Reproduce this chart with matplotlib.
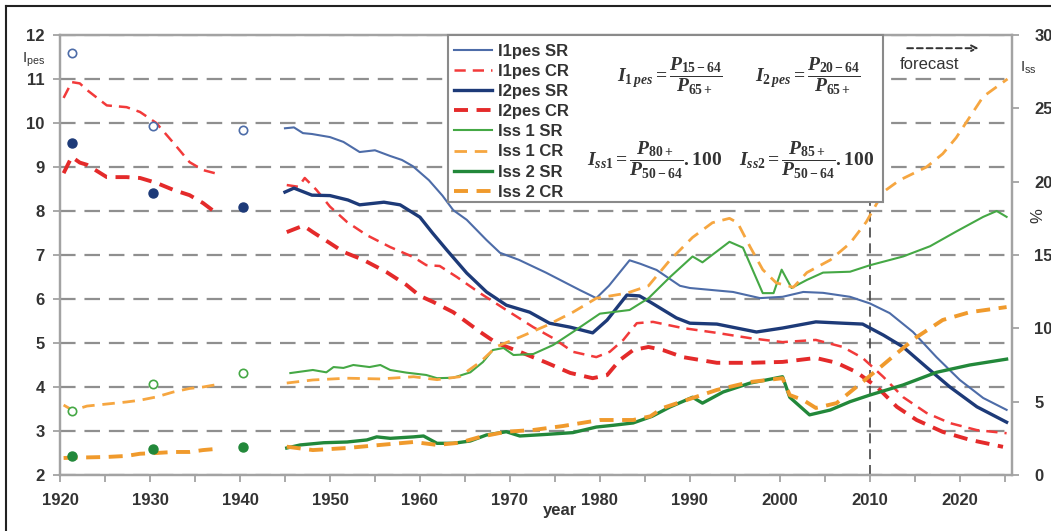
import numpy as np
import matplotlib
matplotlib.use("Agg")
import matplotlib.pyplot as plt
from matplotlib.patches import Rectangle
from matplotlib.lines import Line2D

plt.rcParams['font.family'] = ['Liberation Sans', 'DejaVu Sans']
plt.rcParams['mathtext.fontset'] = 'custom'
plt.rcParams['mathtext.rm'] = 'Liberation Serif:bold'
plt.rcParams['mathtext.it'] = 'Liberation Serif:italic:bold'
plt.rcParams['mathtext.bf'] = 'Liberation Serif:bold'

# ---- data ----
census_years = [1921.3, 1930.3, 1940.3]
i1pes_census = [11.6, 9.93, 9.84]
i2pes_census = [9.55, 8.41, 8.10]
iss1_census = [4.36, 6.2, 6.95]
iss2_census = [1.3, 1.77, 1.91]

pre_years = [1920.4, 1921.3, 1922.2, 1923, 1925.2, 1927.4, 1928.9, 1930.7, 1932.6, 1934.4, 1935.9, 1937.2]
i1pes_cr_pre = [10.57, 10.93, 10.9, 10.75, 10.4, 10.36, 10.25, 10.0, 9.55, 9.11, 8.93, 8.86]
i2pes_cr_pre = [8.86, 9.23, 9.1, 9.05, 8.77, 8.77, 8.75, 8.64, 8.48, 8.36, 8.18, 7.98]
iss1_cr_pre = [4.77, 4.45, 4.55, 4.7, 4.84, 4.98, 5.1, 5.32, 5.66, 5.9, 6.0, 6.14]
iss2_cr_pre = [1.16, 1.18, 1.2, 1.2, 1.23, 1.3, 1.45, 1.5, 1.57, 1.57, 1.7, 1.77]

i1_sr_years = [1945, 1946, 1947, 1948, 1950, 1951.5, 1953.3, 1955, 1956.7, 1958, 1959.2, 1961, 1962.5,
               1963.7, 1965.2, 1967.4, 1968.9, 1971, 1974, 1977.8, 1979.6, 1981, 1983.3, 1984.5, 1986.3,
               1988.9, 1990, 1994.8, 1997.8, 2000.3, 2002.6, 2004.8, 2007.8, 2010, 2012.2, 2014.8,
               2017.4, 2020, 2022.6, 2025.2]
i1pes_sr = [9.88, 9.9, 9.77, 9.75, 9.68, 9.57, 9.34, 9.38, 9.25, 9.16, 9.02, 8.7, 8.35,
            8.02, 7.8, 7.34, 7.05, 6.89, 6.6, 6.2, 6.02, 6.3, 6.88, 6.8, 6.66,
            6.3, 6.25, 6.16, 6.02, 6.05, 6.16, 6.14, 6.05, 5.9, 5.68, 5.25,
            4.68, 4.16, 3.75, 3.48]

i2_sr_years = [1945, 1946, 1948, 1950, 1952, 1953.3, 1956, 1957.8, 1960, 1961.4, 1963, 1965.2, 1967.4,
               1969.6, 1972.2, 1974.4, 1976.7, 1979.2, 1980.8, 1983, 1984.4, 1985.6, 1988.5, 1990,
               1993, 1997.4, 2000.3, 2004, 2007, 2009.2, 2011.5, 2013.7, 2016.3, 2018.9, 2021.9, 2025.2]
i2pes_sr = [8.43, 8.52, 8.36, 8.35, 8.25, 8.14, 8.2, 8.14, 7.86, 7.5, 7.11, 6.59, 6.16,
            5.86, 5.7, 5.45, 5.36, 5.23, 5.52, 6.09, 6.07, 5.93, 5.57, 5.45,
            5.43, 5.25, 5.34, 5.48, 5.45, 5.43, 5.18, 4.91, 4.45, 4.0, 3.55, 3.2]

i1_cr_years = [1945.2, 1946.5, 1947.2, 1948.5, 1950, 1951.9, 1954.1, 1956.7, 1959.3, 1960.7, 1962.2,
               1964.1, 1966.7, 1969.6, 1972.6, 1974.8, 1977, 1979.6, 1981.1, 1982.6, 1984.1, 1985.9,
               1989.2, 1993, 1996.7, 2000.3, 2004, 2007, 2009.2, 2011.5, 2013.7, 2016.3, 2018.9,
               2021.9, 2025.2]
i1pes_cr = [8.59, 8.55, 8.75, 8.48, 8.1, 7.75, 7.45, 7.18, 6.95, 6.77, 6.75,
            6.5, 6.13, 5.75, 5.36, 5.11, 4.8, 4.68, 4.8, 5.07, 5.45, 5.48,
            5.34, 5.23, 5.11, 5.02, 5.07, 4.91, 4.66, 4.23, 3.77, 3.41, 3.18,
            3.02, 2.95]

i2_cr_years = [1945.2, 1946.7, 1947.1, 1948.1, 1950, 1951.5, 1953.7, 1956.3, 1958.5, 1960, 1961.5,
               1963.7, 1966.7, 1968.5, 1971.1, 1974.1, 1976.7, 1979.2, 1980.8, 1982.2, 1983.7, 1985.4,
               1987, 1989.2, 1993, 1996.7, 2000.3, 2004, 2006.3, 2008.5, 2010.8, 2013, 2015.2,
               2018.1, 2021.1, 2024.8]
i2pes_cr = [7.52, 7.64, 7.66, 7.52, 7.27, 7.07, 6.89, 6.61, 6.32, 6.07, 5.93,
            5.7, 5.25, 5.0, 4.8, 4.55, 4.32, 4.2, 4.27, 4.61, 4.84, 4.91,
            4.84, 4.68, 4.55, 4.55, 4.57, 4.66, 4.55, 4.34, 4.0, 3.55, 3.25,
            2.98, 2.8, 2.64]

iss1_sr_years = [1945.6, 1948.1, 1949.6, 1950.4, 1951.5, 1952.6, 1954.4, 1955.6, 1956.7, 1958.5, 1960.7,
                 1961.9, 1963.7, 1965.6, 1967, 1968.1, 1969.3, 1970.4, 1972.6, 1974.8, 1977, 1980,
                 1983.3, 1985.4, 1987.8, 1990.3, 1991.4, 1994.4, 1995.9, 1998.1, 1999.3, 2000.2,
                 2001.3, 2003, 2004.8, 2007.8, 2010, 2013.7, 2016.7, 2019.6, 2022.6, 2024.1, 2025.2]
iss1_sr = [6.95, 7.16, 7.0, 7.36, 7.3, 7.5, 7.36, 7.5, 7.16, 6.98, 6.82,
           6.6, 6.63, 7.0, 7.7, 8.52, 8.66, 8.18, 8.25, 8.86, 9.75, 11.0,
           11.25, 12.05, 13.5, 14.9, 14.5, 15.9, 15.5, 12.4, 12.4, 14.0,
           12.75, 13.3, 13.8, 13.86, 14.3, 14.9, 15.6, 16.6, 17.6, 18.0, 17.6]

iss1_cr_years = [1945.2, 1948.1, 1951.9, 1955.6, 1959.3, 1961.9, 1964.4, 1966.7, 1968.5, 1971.1, 1974.1,
                 1977, 1979.6, 1983, 1985.4, 1987.8, 1990.3, 1992.5, 1994.4, 1995.3, 1996.7, 1998.1,
                 1999.6, 2001.5, 2003, 2005.6, 2007.8, 2009.6, 2011.5, 2013.3, 2016.3, 2018.1, 2019.6,
                 2021.1, 2022.6, 2024.4, 2025.3]
iss1_cr = [6.27, 6.48, 6.6, 6.55, 6.7, 6.5, 6.7, 7.7, 8.75, 9.4, 10.2,
           11.1, 12.05, 12.4, 12.9, 14.66, 16.2, 17.2, 17.5, 17.2, 15.55, 14.0,
           13.1, 12.8, 13.8, 14.66, 15.8, 17.25, 19.3, 20.1, 21.0, 21.9, 23.0,
           24.4, 25.8, 26.6, 27.0]

iss2_sr_years = [1945.2, 1946.7, 1949.3, 1951.9, 1954.1, 1955.2, 1956.7, 1959.3, 1960.4, 1961.9, 1963.7,
                 1965.6, 1967.4, 1969.6, 1971.1, 1974.1, 1977, 1979.6, 1981.5, 1983.7, 1985.8, 1987.8,
                 1990.3, 1991.4, 1993.7, 1996.7, 1998.5, 2000.3, 2001.1, 2003.3, 2005.6, 2007.8, 2010,
                 2013.7, 2017.4, 2021.1, 2025.2]
iss2_sr = [1.84, 2.05, 2.2, 2.25, 2.39, 2.6, 2.5, 2.6, 2.66, 2.16, 2.16,
           2.32, 2.73, 2.95, 2.66, 2.77, 2.89, 3.27, 3.39, 3.55, 4.0, 4.64,
           5.3, 4.9, 5.66, 6.27, 6.48, 6.7, 5.3, 4.1, 4.43, 5.0, 5.45,
           6.14, 7.0, 7.5, 7.9]

iss2_cr_years = [1945.2, 1948.1, 1951.9, 1955.6, 1959.3, 1961.9, 1964.4, 1966.7, 1969.6, 1972.6, 1975.9,
                 1980, 1983.7, 1985.6, 1987, 1990.3, 1993, 1996.7, 2000.3, 2001.1, 2002.6, 2004,
                 2006.3, 2008.5, 2010.8, 2013, 2015.2, 2018.1, 2021.1, 2025.2]
iss2_cr = [1.93, 1.7, 1.84, 2.05, 2.25, 2.05, 2.2, 2.6, 2.95, 3.07, 3.34,
           3.75, 3.75, 4.0, 4.57, 5.25, 5.8, 6.34, 6.6, 5.45, 5.11, 4.57,
           4.9, 6.0, 7.16, 8.3, 9.4, 10.57, 11.1, 11.45]

labels = ['I1pes SR', 'I1pes CR', 'I2pes SR', 'I2pes CR', 'Iss 1 SR', 'Iss 1 CR', 'Iss 2 SR', 'Iss 2 CR']

c_i1sr, c_i2sr = '#4d6ca8', '#1d3a78'
c_i1cr, c_i2cr = '#f23a3a', '#e42a2a'
c_s1sr, c_s2sr = '#45a845', '#22883a'
c_s1cr, c_s2cr = '#f6a640', '#f09a2c'
txt = '#333333'
gray = '#a3a3a3'

fig = plt.figure(figsize=(10.51, 5.31), dpi=100)
ax = fig.add_axes([60 / 1051, 56 / 531, 952 / 1051, 440 / 531])
ax2 = ax.twinx()

# left axis series
h1, = ax.plot(i1_sr_years, i1pes_sr, color=c_i1sr, lw=1.5)
h2, = ax.plot(i1_cr_years, i1pes_cr, color=c_i1cr, lw=1.8, dashes=(4.5, 2.8))
ax.plot(pre_years, i1pes_cr_pre, color=c_i1cr, lw=1.8, dashes=(4.5, 2.8))
h3, = ax.plot(i2_sr_years, i2pes_sr, color=c_i2sr, lw=2.4)
h4, = ax.plot(i2_cr_years, i2pes_cr, color=c_i2cr, lw=2.8, dashes=(3.6, 2.2))
ax.plot(pre_years, i2pes_cr_pre, color=c_i2cr, lw=2.8, dashes=(3.6, 2.2))
ax.plot(census_years, i1pes_census, 'o', ms=6, mfc='white', mec=c_i1sr, mew=1.2)
ax.plot(census_years, i2pes_census, 'o', ms=6.5, color=c_i2sr)

# right axis series
h5, = ax2.plot(iss1_sr_years, iss1_sr, color=c_s1sr, lw=1.5)
h6, = ax2.plot(iss1_cr_years, iss1_cr, color=c_s1cr, lw=2.0, dashes=(4.5, 2.8))
ax2.plot(pre_years, iss1_cr_pre, color=c_s1cr, lw=2.0, dashes=(4.5, 2.8))
h7, = ax2.plot(iss2_sr_years, iss2_sr, color=c_s2sr, lw=2.4)
h8, = ax2.plot(iss2_cr_years, iss2_cr, color=c_s2cr, lw=2.8, dashes=(3.6, 2.2))
ax2.plot(pre_years, iss2_cr_pre, color=c_s2cr, lw=2.8, dashes=(3.6, 2.2))
ax2.plot(census_years, iss1_census, 'o', ms=6, mfc='white', mec=c_s1sr, mew=1.2)
ax2.plot(census_years, iss2_census, 'o', ms=6.5, color=c_s2sr)

# axes styling
ax.set_xlim(1920, 2025.8)
ax.set_ylim(2, 12)
ax2.set_ylim(0, 30)
ax.set_xticks(np.arange(1920, 2021, 10))
ax.set_xticks(np.arange(1925, 2026, 10), minor=True)
ax.set_yticks(np.arange(2, 13, 1))
ax2.set_yticks(np.arange(0, 31, 5))
ax.yaxis.grid(True, color='#8f8f8f', lw=1.6, dashes=(7, 4))
ax.set_axisbelow('line')
ax.axvline(2010, color='#444444', lw=1.2, dashes=(6, 3.5), zorder=1.8)

for a in (ax, ax2):
    for s in a.spines.values():
        s.set_color(gray)
        s.set_linewidth(1.6)
    a.tick_params(which='both', color=gray, width=1.3, length=5, labelcolor=txt, labelsize=12)
    for lab in a.get_xticklabels() + a.get_yticklabels():
        lab.set_fontweight('bold')
ax.tick_params(axis='x', pad=8)
ax.tick_params(axis='y', pad=6)
ax2.tick_params(axis='y', pad=11)

ax.text(1975.6, -0.08, 'year', transform=ax.get_xaxis_transform(), ha='center', va='center',
        fontsize=12, fontweight='bold', color=txt)
fig.text(22 / 1051, 1 - 60 / 531, r'I$_{\mathregular{pes}}$', fontsize=11, color=txt, va='center')
fig.text(1020 / 1051, 1 - 68 / 531, r'I$_{\mathregular{ss}}$', fontsize=11, color=txt, va='center')
fig.text(1038 / 1051, 1 - 216 / 531, '%', fontsize=12, color=txt, rotation=90, ha='center', va='center')

# forecast arrow
ax.annotate('', xy=(0.968, 0.970), xytext=(0.887, 0.970), xycoords='axes fraction',
            arrowprops=dict(arrowstyle='->', color=txt, lw=1.4, linestyle=(0, (3, 2))))
ax.text(0.913, 0.934, 'forecast', transform=ax.transAxes, ha='center', va='center',
        fontsize=12, color=txt)

# legend box with formulas
box = Rectangle((448 / 1051, 1 - 202 / 531), 435 / 1051, 167 / 531, transform=fig.transFigure,
                facecolor='white', edgecolor='#8a8a8a', lw=1.5, zorder=5)
fig.add_artist(box)
leg = fig.legend([h1, h2, h3, h4, h5, h6, h7, h8], labels, loc='upper left',
                 bbox_to_anchor=(452 / 1051, 1 - 42 / 531), frameon=False,
                 prop={'weight': 'bold', 'size': 12}, labelspacing=0.31, handlelength=2.3,
                 handletextpad=0.35, borderaxespad=0, borderpad=0.1)
leg.set_zorder(6)
for t in leg.get_texts():
    t.set_color(txt)

fs = 14
fig.text(670 / 1051, 1 - 76 / 531, r'$I_{\mathit{1\,pes}}=\dfrac{P_{\mathit{15-64}}}{P_{\mathit{65+}}}$',
         fontsize=fs, ha='center', va='center', color=txt, zorder=7)
fig.text(808 / 1051, 1 - 76 / 531, r'$I_{\mathit{2\,pes}}=\dfrac{P_{\mathit{20-64}}}{P_{\mathit{65+}}}$',
         fontsize=fs, ha='center', va='center', color=txt, zorder=7)
fig.text(655 / 1051, 1 - 160 / 531, r'$I_{\mathit{ss1}}=\dfrac{P_{\mathit{80+}}}{P_{\mathit{50-64}}}.\mathit{100}$',
         fontsize=fs, ha='center', va='center', color=txt, zorder=7)
fig.text(807 / 1051, 1 - 160 / 531, r'$I_{\mathit{ss2}}=\dfrac{P_{\mathit{85+}}}{P_{\mathit{50-64}}}.\mathit{100}$',
         fontsize=fs, ha='center', va='center', color=txt, zorder=7)

# outer frame lines (left and top)
fig.add_artist(Line2D([6 / 1051, 6 / 1051], [0, 1 - 6 / 531], transform=fig.transFigure, color='#222222', lw=1.5))
fig.add_artist(Line2D([6 / 1051, 1], [1 - 6 / 531, 1 - 6 / 531], transform=fig.transFigure, color='#222222', lw=1.5))

fig.savefig('out.png', dpi=100)
